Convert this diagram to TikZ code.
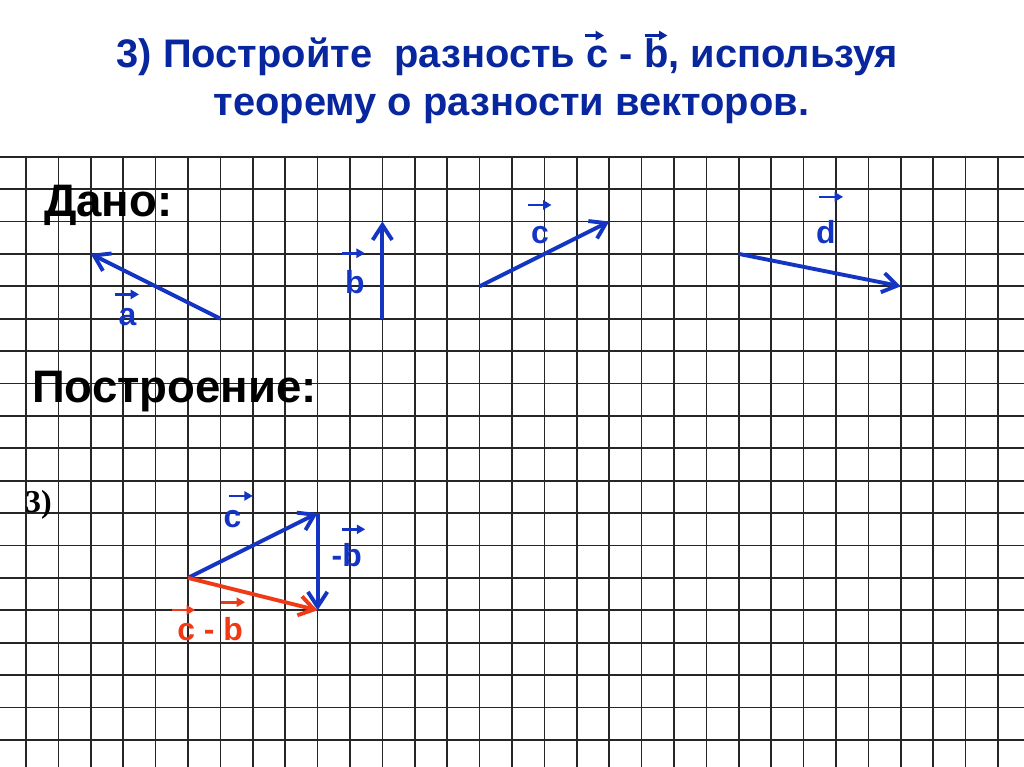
\documentclass[tikz,border=0pt]{standalone}
\usepackage{fontspec}
\setmainfont{Liberation Sans}
\newfontfamily\numfont{Liberation Serif}
\usetikzlibrary{arrows.meta}

\definecolor{vecblue}{RGB}{20,52,196}
\definecolor{titleblue}{RGB}{8,38,158}
\definecolor{vecred}{RGB}{240,58,22}

\begin{document}
\begin{tikzpicture}[>=Stealth,
    gridline/.style={line width=1.5pt, black!85},
    vec/.style={line width=3.4pt, vecblue, -{Straight Barb[length=4.6mm, width=6mm]}},
    vecr/.style={vec, vecred},
    tag/.style={font=\fontsize{28}{28}\selectfont\bfseries, vecblue, inner sep=0pt, anchor=base},
    tagarrow/.style={line width=2.4pt, vecblue, -{Triangle[length=2.6mm, width=2.8mm]}},
    head/.style={font=\fontsize{40}{40}\selectfont\bfseries, inner sep=0pt, anchor=base west},
    title/.style={font=\fontsize{35}{35}\selectfont\bfseries, titleblue, inner sep=0pt, anchor=base}]

    \useasboundingbox (-0.802,-18.836) rectangle (30.802,4.836);
    \fill[white] (-0.802,-18.836) rectangle (30.802,4.836);
    \draw[gridline] (-0.802,-18.836) grid (30.802,0);

    % title
    \node[title] (t1) at (14.86,2.738) {3) Постройте\ \ разность c - b, используя};
    \node[title] (t2) at (14.98,1.256) {теорему о разности векторов.};
    \draw[tagarrow, titleblue, line width=1.8pt] (17.25,3.74) -- (17.84,3.74);
    \draw[tagarrow, titleblue, line width=1.8pt] (19.10,3.74) -- (19.80,3.74);

    % given
    \node[head] (given) at (0.556,-1.861) {Дано:};

    \coordinate (a0) at (6,-5);  \coordinate (a1) at (2,-3);
    \coordinate (b0) at (11,-5); \coordinate (b1) at (11,-2);
    \coordinate (c0) at (14,-4); \coordinate (c1) at (18,-2);
    \coordinate (d0) at (22,-3); \coordinate (d1) at (27,-4);

    \draw[vec] (a0) -- (a1);
    \draw[vec] (b0) -- (b1);
    \draw[vec] (c0) -- (c1);
    \draw[vec] (d0) -- (d1);

    \node[tag] (la) at (3.13,-5.195) {a};
    \draw[tagarrow] (2.75,-4.25) -- (3.49,-4.25);
    \node[tag] (lb) at (10.15,-4.21) {b};
    \draw[tagarrow] (9.74,-2.98) -- (10.46,-2.98);
    \node[tag] (lc) at (15.86,-2.67) {c};
    \draw[tagarrow] (15.50,-1.49) -- (16.22,-1.49);
    \node[tag] (ld) at (24.69,-2.69) {d};
    \draw[tagarrow] (24.48,-1.24) -- (25.22,-1.24);

    % construction
    \node[head] (build) at (0.185,-7.571) {Построение:};
    \node[inner sep=0pt, anchor=base west, font=\numfont\fontsize{28}{28}\selectfont\bfseries] (num) at (-0.031,-10.966) {3)};

    \coordinate (o) at (5,-13);
    \coordinate (p) at (9,-11);
    \coordinate (q) at (9,-14);

    \draw[vec] (o) -- (p);
    \draw[vec] (p) -- (q);
    \draw[vecr] (o) -- (q);

    \node[tag] (lcc) at (6.37,-11.44) {c};
    \draw[tagarrow] (6.26,-10.47) -- (7.00,-10.47);
    \node[tag] (lmb) at (9.90,-12.65) {-b};
    \draw[tagarrow] (9.74,-11.50) -- (10.47,-11.50);
    \node[tag, vecred] (ldiff) at (5.68,-14.92) {c - b};
    \draw[tagarrow, vecred] (4.52,-13.99) -- (5.22,-13.99);
    \draw[tagarrow, vecred] (6.01,-13.75) -- (6.76,-13.75);

\end{tikzpicture}
\end{document}
